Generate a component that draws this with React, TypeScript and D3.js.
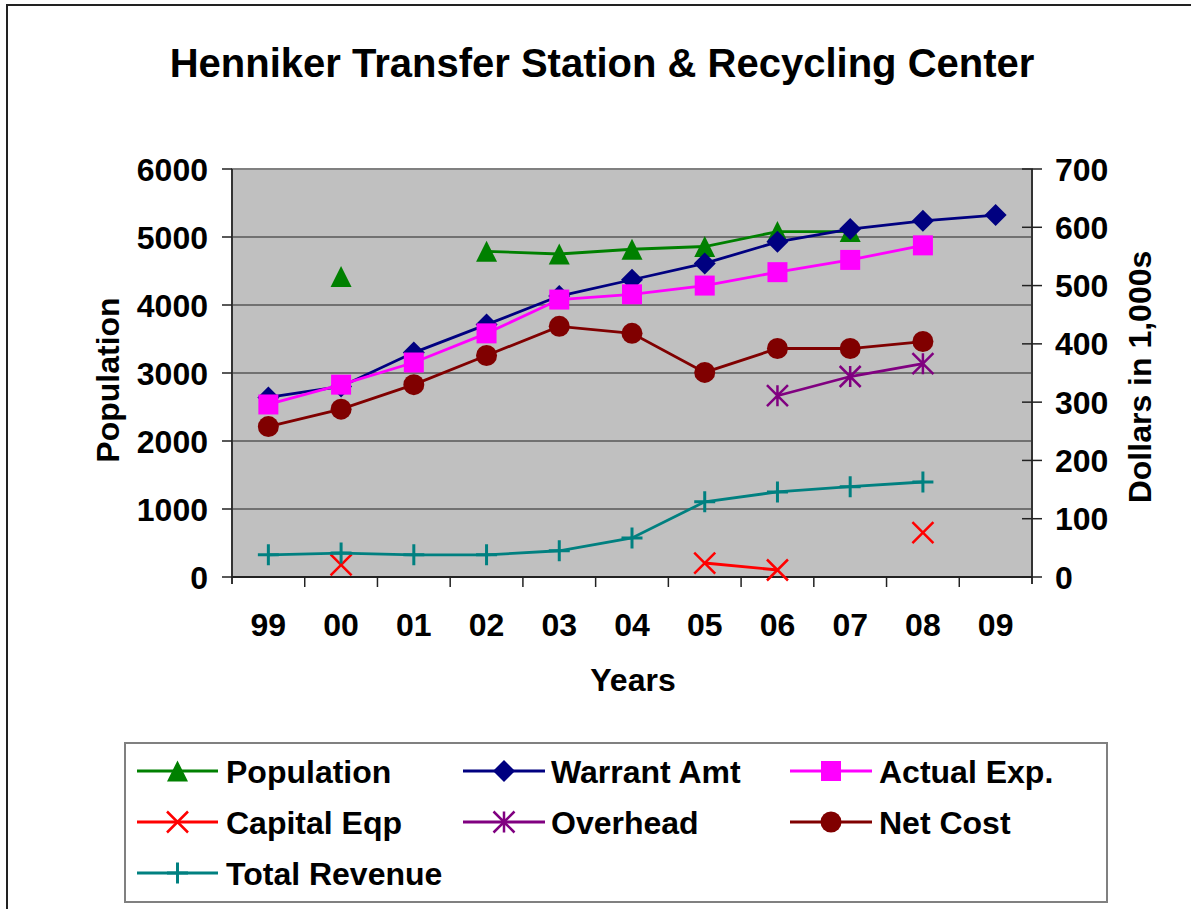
import React from "react";
import * as d3 from "d3";

const categories = ["99", "00", "01", "02", "03", "04", "05", "06", "07", "08", "09"];
const population: (number | null)[] = [null, 4420, null, 4790, 4750, 4820, 4860, 5080, 5080, null, null];
const warrantAmt: (number | null)[] = [308, 327, 385, 433, 482, 510, 538, 575, 597, 611, 621];
const actualExp: (number | null)[] = [296, 330, 368, 418, 476, 485, 500, 523, 544, 569, null];
const capitalEqp: (number | null)[] = [null, 21, null, null, null, null, 24, 12, null, 76, null];
const overhead: (number | null)[] = [null, null, null, null, null, null, null, 311, 344, 366, null];
const netCost: (number | null)[] = [258, 288, 330, 380, 430, 418, 351, 392, 392, 404, null];
const totalRevenue: (number | null)[] = [38, 41, 38, 38, 45, 67, 129, 146, 155, 163, null];
const leftTicks = [0, 1000, 2000, 3000, 4000, 5000, 6000];
const rightTicks = [0, 100, 200, 300, 400, 500, 600, 700];

type MarkerKind = "triangle" | "diamond" | "square" | "x" | "star" | "circle" | "plus";
interface Series {
  name: string;
  values: (number | null)[];
  color: string;
  marker: MarkerKind;
  axis: "left" | "right";
}

const seriesList: Series[] = [
  { name: "Population", values: population, color: "#008000", marker: "triangle", axis: "left" },
  { name: "Warrant Amt", values: warrantAmt, color: "#000080", marker: "diamond", axis: "right" },
  { name: "Actual Exp.", values: actualExp, color: "#FF00FF", marker: "square", axis: "right" },
  { name: "Capital Eqp", values: capitalEqp, color: "#FF0000", marker: "x", axis: "right" },
  { name: "Overhead", values: overhead, color: "#800080", marker: "star", axis: "right" },
  { name: "Net Cost", values: netCost, color: "#800000", marker: "circle", axis: "right" },
  { name: "Total Revenue", values: totalRevenue, color: "#008080", marker: "plus", axis: "right" },
];

const FONT = "'Liberation Sans', Arial, sans-serif";

function Marker({ kind, x, y, color }: { kind: MarkerKind; x: number; y: number; color: string }) {
  const s = 10.5;
  switch (kind) {
    case "triangle":
      return <path d={`M${x},${y - s} L${x + s},${y + s} L${x - s},${y + s} Z`} fill={color} />;
    case "diamond":
      return <path d={`M${x},${y - 11} L${x + 11},${y} L${x},${y + 11} L${x - 11},${y} Z`} fill={color} />;
    case "square":
      return <rect x={x - 10} y={y - 10} width={20} height={20} fill={color} />;
    case "circle":
      return <circle cx={x} cy={y} r={10.5} fill={color} />;
    case "x":
      return (
        <path
          d={`M${x - s},${y - s} L${x + s},${y + s} M${x - s},${y + s} L${x + s},${y - s}`}
          stroke={color}
          strokeWidth={2.5}
          fill="none"
        />
      );
    case "star":
      return (
        <path
          d={`M${x - s},${y - s} L${x + s},${y + s} M${x - s},${y + s} L${x + s},${y - s} M${x},${y - s} L${x},${y + s}`}
          stroke={color}
          strokeWidth={2.5}
          fill="none"
        />
      );
    case "plus":
      return (
        <path
          d={`M${x - s},${y} L${x + s},${y} M${x},${y - s} L${x},${y + s}`}
          stroke={color}
          strokeWidth={3}
          fill="none"
        />
      );
  }
  return null;
}

export default function App() {
  const W = 1191;
  const H = 909;
  const plot = { left: 232, right: 1032, top: 169, bottom: 577 };

  const x = d3.scaleBand<string>().domain(categories).range([plot.left, plot.right]);
  const yL = d3.scaleLinear().domain([0, 6000]).range([plot.bottom, plot.top]);
  const yR = d3.scaleLinear().domain([0, 700]).range([plot.bottom, plot.top]);
  const cx = (c: string) => (x(c) as number) + x.bandwidth() / 2;

  const legendCols = [
    { lineX0: 137, lineX1: 218, textX: 226 },
    { lineX0: 463, lineX1: 545, textX: 551 },
    { lineX0: 790, lineX1: 872, textX: 879 },
  ];
  const legendRows = [771, 822, 873];

  return (
    <svg
      width={W}
      height={H}
      style={{ position: "absolute", left: 0, top: 0, background: "#fff" }}
      fontFamily={FONT}
    >
      <rect x={0} y={0} width={W} height={H} fill="#fff" />
      {/* outer chart border */}
      <rect x={7} y={5} width={1300} height={1000} fill="none" stroke="#222" strokeWidth={2} />

      {/* title */}
      <text x={602} y={77} textAnchor="middle" fontSize={40} fontWeight="bold" fill="#000">
        Henniker Transfer Station &amp; Recycling Center
      </text>

      {/* plot background */}
      <rect
        x={plot.left}
        y={plot.top}
        width={plot.right - plot.left}
        height={plot.bottom - plot.top}
        fill="#C0C0C0"
        stroke="#808080"
        strokeWidth={2}
      />

      {/* gridlines */}
      {leftTicks
        .filter((t) => t > 0 && t < 6000)
        .map((t) => (
          <line key={"g" + t} x1={plot.left} x2={plot.right} y1={yL(t)} y2={yL(t)} stroke="#222" strokeWidth={1.2} />
        ))}

      {/* axes */}
      <line x1={plot.left} x2={plot.left} y1={plot.top} y2={plot.bottom + 7} stroke="#333" strokeWidth={2} />
      <line x1={plot.right} x2={plot.right} y1={plot.top} y2={plot.bottom + 7} stroke="#333" strokeWidth={2} />
      <line x1={plot.left} x2={plot.right} y1={plot.bottom} y2={plot.bottom} stroke="#222" strokeWidth={2} />

      {/* left ticks and labels */}
      {leftTicks.map((t) => (
        <g key={"lt" + t}>
          <line x1={plot.left - 10} x2={plot.left} y1={yL(t)} y2={yL(t)} stroke="#222" strokeWidth={1.5} />
          <text x={208} y={yL(t)} dy="0.36em" textAnchor="end" fontSize={32} fontWeight="bold">
            {t}
          </text>
        </g>
      ))}

      {/* right ticks and labels */}
      {rightTicks.map((t) => (
        <g key={"rt" + t}>
          <line x1={plot.right - 10} x2={plot.right + 10} y1={yR(t)} y2={yR(t)} stroke="#222" strokeWidth={1.5} />
          <text x={1055} y={yR(t)} dy="0.36em" textAnchor="start" fontSize={32} fontWeight="bold">
            {t}
          </text>
        </g>
      ))}

      {/* category ticks and labels */}
      {categories.map((c, i) => (
        <g key={"c" + c}>
          {i > 0 && (
            <line
              x1={x(c) as number}
              x2={x(c) as number}
              y1={plot.bottom}
              y2={plot.bottom + 10}
              stroke="#222"
              strokeWidth={1.5}
            />
          )}
          <text x={cx(c)} y={636} textAnchor="middle" fontSize={32} fontWeight="bold">
            {c}
          </text>
        </g>
      ))}

      {/* axis titles */}
      <text x={633} y={691} textAnchor="middle" fontSize={32} fontWeight="bold">
        Years
      </text>
      <text
        transform={`translate(119, 380) rotate(-90)`}
        textAnchor="middle"
        fontSize={32}
        fontWeight="bold"
      >
        Population
      </text>
      <text
        transform={`translate(1151, 377) rotate(-90)`}
        textAnchor="middle"
        fontSize={32}
        fontWeight="bold"
      >
        Dollars in 1,000s
      </text>

      {/* series */}
      {seriesList.map((s) => {
        const yScale = s.axis === "left" ? yL : yR;
        const pts = categories.map((c, i) => ({ c, v: s.values[i] }));
        const line = d3
          .line<{ c: string; v: number | null }>()
          .defined((d) => d.v !== null)
          .x((d) => cx(d.c))
          .y((d) => yScale(d.v as number));
        return (
          <g key={s.name}>
            <path d={line(pts) || ""} fill="none" stroke={s.color} strokeWidth={2.8} />
            {pts
              .filter((d) => d.v !== null)
              .map((d) => (
                <Marker key={d.c} kind={s.marker} x={cx(d.c)} y={yScale(d.v as number)} color={s.color} />
              ))}
          </g>
        );
      })}

      {/* legend */}
      <rect x={125} y={743} width={982} height={159} fill="#fff" stroke="#808080" strokeWidth={2} />
      {seriesList.map((s, i) => {
        const col = legendCols[i % 3];
        const row = legendRows[Math.floor(i / 3)];
        const mx = (col.lineX0 + col.lineX1) / 2;
        return (
          <g key={"lg" + s.name}>
            <line x1={col.lineX0} x2={col.lineX1} y1={row} y2={row} stroke={s.color} strokeWidth={2.8} />
            <Marker kind={s.marker} x={mx} y={row} color={s.color} />
            <text x={col.textX} y={row} dy="0.36em" fontSize={32} fontWeight="bold">
              {s.name}
            </text>
          </g>
        );
      })}
    </svg>
  );
}
